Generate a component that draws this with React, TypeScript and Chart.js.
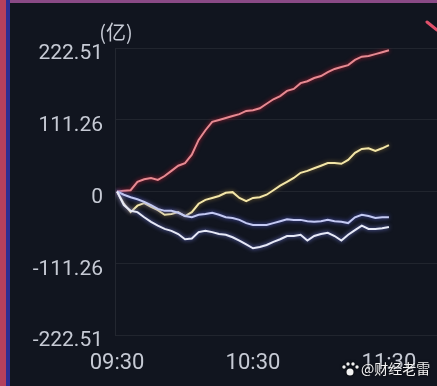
import React, { useEffect, useRef } from "react";
import { Chart, registerables } from "chart.js";
Chart.register(...registerables);

// minutes after 09:30
const minutes = [0, 3, 6, 9, 12, 15, 18, 21, 24, 27, 30, 33, 36, 39, 42, 45, 48, 51, 54, 57, 60, 63, 66, 69, 72, 75, 78, 81, 84, 87, 90, 93, 96, 99, 102, 105, 108, 111, 114, 117, 120];

const redSeries = [0, 1, 2, 15, 19, 21, 18, 24, 32, 40, 44, 57, 80, 95, 108, 111, 114, 117, 120, 125, 126, 129, 136, 143, 148, 156, 159, 168, 171, 176, 179, 185, 190, 193, 196, 204, 209, 210, 213, 216, 219];
const yellowSeries = [0, -19, -32, -22, -18, -24, -29, -36, -35, -32, -38, -32, -19, -13, -10, -7, -2, -1, -10, -15, -10, -9, -5, 2, 9, 15, 21, 29, 32, 36, 40, 44, 44, 43, 49, 60, 66, 67, 63, 67, 72];
const lavenderSeries = [0, -5, -9, -12, -16, -21, -27, -30, -30, -33, -38, -40, -36, -35, -33, -36, -40, -41, -44, -49, -52, -52, -52, -49, -46, -43, -44, -44, -46, -47, -46, -44, -46, -47, -49, -40, -36, -38, -41, -40, -40];
const whiteSeries = [0, -21, -30, -32, -40, -47, -53, -58, -61, -66, -74, -73, -63, -61, -63, -66, -67, -71, -76, -82, -88, -86, -83, -78, -74, -69, -69, -67, -76, -69, -66, -64, -69, -76, -67, -60, -53, -58, -58, -57, -55];

const xTickValues = [0, 60, 120];
const xTickLabels = ["09:30", "10:30", "11:30"];
const yTickValues = [222.51, 111.26, 0, -111.26, -222.51];
const yTickLabels = ["222.51", "111.26", "0", "-111.26", "-222.51"];
const unitLabel = "(亿)";
const watermarkText = "@财经老雷";

const BG = "#11151f";
const LABEL = "#c6cad4";

export default function App() {
  const ref = useRef<HTMLCanvasElement>(null);

  useEffect(() => {
    if (!ref.current) return;
    const toPts = (vals: number[]) => vals.map((v, i) => ({ x: minutes[i], y: v }));

    const background = {
      id: "bgdeco",
      beforeDraw(chart: any) {
        const ctx = chart.ctx;
        const w = chart.width;
        const h = chart.height;
        ctx.save();
        ctx.fillStyle = BG;
        ctx.fillRect(0, 0, w, h);
        ctx.fillStyle = "#8a4a86";
        ctx.fillRect(0, 0, w, 3);
        ctx.fillStyle = "#b5405c";
        ctx.fillRect(0, 0, 6, h);
        ctx.fillStyle = "#2c2c92";
        ctx.fillRect(6, 0, 4, h);
        ctx.restore();
      },
      afterDraw(chart: any) {
        const ctx = chart.ctx;
        ctx.save();
        ctx.fillStyle = LABEL;
        ctx.font = "20px 'Noto Sans CJK SC', Roboto, sans-serif";
        ctx.textAlign = "center";
        ctx.textBaseline = "middle";
        ctx.fillText(unitLabel, 116, 32);
        // red artifact top-right
        ctx.strokeStyle = "#e0506a";
        ctx.lineWidth = 3;
        ctx.lineCap = "round";
        ctx.beginPath();
        ctx.moveTo(427, 22);
        ctx.lineTo(437, 30);
        ctx.stroke();
        // watermark
        ctx.shadowColor = "rgba(0,0,0,0.8)";
        ctx.shadowBlur = 3;
        ctx.fillStyle = "#f2f2f2";
        ctx.font = "14px 'Noto Sans CJK SC', sans-serif";
        ctx.textAlign = "left";
        ctx.textBaseline = "middle";
        ctx.fillText(watermarkText, 361, 369);
        // paw icon
        ctx.beginPath();
        ctx.arc(350, 372, 3.5, 0, Math.PI * 2);
        ctx.fill();
        [[344, 367], [348, 364], [353, 364], [357, 367]].forEach(([x, y]) => {
          ctx.beginPath();
          ctx.arc(x, y, 1.7, 0, Math.PI * 2);
          ctx.fill();
        });
        ctx.restore();
      },
    };

    const glow = {
      id: "glow",
      beforeDatasetDraw(chart: any, args: any) {
        const ds: any = chart.data.datasets[args.index];
        chart.ctx.save();
        chart.ctx.shadowColor = ds.glowColor;
        chart.ctx.shadowBlur = 4;
      },
      afterDatasetDraw(chart: any) {
        chart.ctx.restore();
      },
    };

    const common = { pointRadius: 0, borderWidth: 2, tension: 0, fill: false } as any;

    const chart = new Chart(ref.current, {
      type: "line",
      data: {
        datasets: [
          { ...common, data: toPts(whiteSeries), borderColor: "#e6e9f6", glowColor: "rgba(120,130,230,0.9)" },
          { ...common, data: toPts(lavenderSeries), borderColor: "#c3c9f2", glowColor: "rgba(90,100,220,0.9)" },
          { ...common, data: toPts(yellowSeries), borderColor: "#f3e6a8", glowColor: "rgba(160,130,60,0.8)" },
          { ...common, data: toPts(redSeries), borderColor: "#e68a92", glowColor: "rgba(190,30,50,0.95)" },
        ] as any,
      },
      options: {
        animation: false,
        responsive: false,
        maintainAspectRatio: false,
        layout: { padding: { top: 48, left: 0, right: 0, bottom: 0 } },
        plugins: { legend: { display: false }, tooltip: { enabled: false } },
        scales: {
          x: {
            type: "linear",
            min: -0.9,
            max: 141.2,
            afterBuildTicks: (s: any) => {
              s.ticks = xTickValues.map((v) => ({ value: v }));
            },
            afterFit: (s: any) => {
              s.height = 51;
            },
            ticks: {
              autoSkip: false,
              maxRotation: 0,
              color: LABEL,
              padding: 7,
              font: { family: "Roboto", size: 22 },
              callback: (v: any) => {
                const i = xTickValues.indexOf(Number(v));
                return i >= 0 ? xTickLabels[i] : "";
              },
            },
            grid: { display: false },
            border: { display: false },
          },
          y: {
            min: -222.51,
            max: 222.51,
            afterBuildTicks: (s: any) => {
              s.ticks = yTickValues.map((v) => ({ value: v }));
            },
            afterFit: (s: any) => {
              s.width = 115;
            },
            ticks: {
              color: LABEL,
              padding: 12,
              labelOffset: 6,
              font: { family: "Roboto", size: 21 },
              callback: (v: any) => {
                const i = yTickValues.indexOf(Number(v));
                return i >= 0 ? yTickLabels[i] : "";
              },
            },
            grid: { color: "rgba(255,255,255,0.07)", drawTicks: false },
            border: { display: true, color: "rgba(255,255,255,0.08)" },
          },
        },
      } as any,
      plugins: [background, glow],
    });
    return () => chart.destroy();
  }, []);

  return (
    <div style={{ position: "fixed", left: 0, top: 0, width: 437, height: 386, background: BG }}>
      <canvas ref={ref} width={437} height={386} style={{ display: "block", width: 437, height: 386 }} />
    </div>
  );
}
